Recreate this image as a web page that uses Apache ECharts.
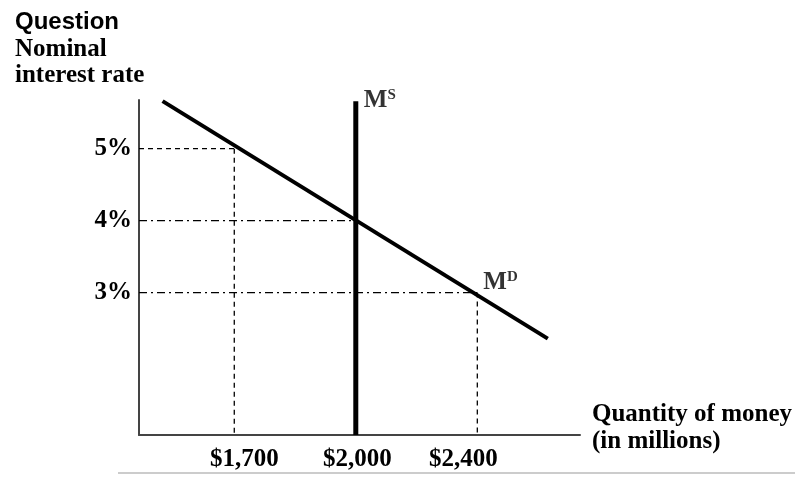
<!DOCTYPE html>
<html>
<head>
<meta charset="utf-8">
<script src="https://cdn.jsdelivr.net/npm/echarts@6/dist/echarts.min.js"></script>
<style>html,body{margin:0;padding:0;background:#fff;}#c{width:795px;height:478px;}</style>
</head>
<body>
<div id="c"></div>
<script>
// ---- data ----
const quantityLabels = ['$1,700', '$2,000', '$2,400'];   // money quantity tick labels
const quantityPos = [0, 1, 2];                            // position of each quantity on the (not-to-scale) axis
const eqRates = [5, 4, 3];                                // interest rate (%) demanded at each quantity
const rateTicks = [3, 4, 5];                              // y tick values (%)
const demandCurve = [[-0.59, 5.66], [2.58, 2.36]];        // M^D line end points
const supplyCurve = [[1, 1.02], [1, 5.66]];               // M^S vertical line
const supplyLabelPt = [[1, 5.66]];
const demandLabelPt = [[2, 3]];

const X_MIN = -0.784, X_MAX = 2.845, Y_MIN = 1.02, Y_MAX = 5.676;
const SERIF = '"Liberation Serif", "Times New Roman", serif';
const FS = 25;

const hDash = [[5, 4], [8, 4, 2, 4], [8, 4, 2, 4]];
const guideSeries = [];
quantityPos.forEach((p, i) => {
  guideSeries.push({
    type: 'line', silent: true, symbol: 'none', animation: false,
    data: [[X_MIN, eqRates[i]], [p, eqRates[i]]],
    lineStyle: { color: '#000', width: 1.3, type: hDash[i] }
  });
  if (p !== 1) {
    guideSeries.push({
      type: 'line', silent: true, symbol: 'none', animation: false,
      data: [[p, eqRates[i]], [p, Y_MIN]],
      lineStyle: { color: '#000', width: 1.3, type: [5, 4] }
    });
  }
});

const labelRich = {
  m: { fontFamily: SERIF, fontWeight: 'bold', fontSize: 25, lineHeight: 25, color: '#000' },
  s: { fontFamily: SERIF, fontWeight: 'bold', fontSize: 15, lineHeight: 15, verticalAlign: 'top', color: '#000' }
};
const tickFont = { fontFamily: SERIF, fontWeight: 'bold', fontSize: FS, color: '#000' };

const chart = echarts.init(document.getElementById('c'), null, { renderer: 'canvas' });
chart.setOption({
  animation: false,
  backgroundColor: '#fff',
  title: {
    text: 'Question', left: 15, top: 10, padding: 0,
    textStyle: { fontFamily: '"Liberation Sans", Arial, sans-serif', fontWeight: 'bold', fontSize: 24, lineHeight: 24, color: '#000' }
  },
  grid: { left: 139, top: 100, width: 441, height: 335 },
  xAxis: {
    type: 'value', min: X_MIN, max: X_MAX,
    axisLine: { onZero: false, lineStyle: { color: '#444', width: 2 } },
    axisTick: { show: false },
    splitLine: { show: false },
    axisLabel: {
      customValues: quantityPos, margin: 12,
      formatter: (v) => { const i = quantityPos.indexOf(Math.round(v)); return '{l' + i + '|' + quantityLabels[i] + '}'; },
      rich: {
        l0: Object.assign({ padding: [0, 0, 0, 20] }, tickFont),
        l1: Object.assign({ padding: [0, 0, 0, 3] }, tickFont),
        l2: Object.assign({ padding: [0, 28, 0, 0] }, tickFont)
      }
    }
  },
  yAxis: {
    type: 'value', min: Y_MIN, max: Y_MAX,
    axisLine: { show: true, onZero: false, lineStyle: { color: '#444', width: 2 } },
    axisTick: { show: false },
    splitLine: { show: false },
    axisLabel: Object.assign({
      customValues: rateTicks, margin: 7,
      formatter: (v) => Math.round(v) + '%'
    }, tickFont)
  },
  graphic: [
    { type: 'text', left: 15, top: 37, style: { text: 'Nominal\ninterest rate', font: 'bold ' + FS + 'px ' + SERIF, lineHeight: 26, fill: '#000' } },
    { type: 'text', left: 592, top: 401, style: { text: 'Quantity of money\n(in millions)', font: 'bold ' + FS + 'px ' + SERIF, lineHeight: 27, fill: '#000' } },
    { type: 'line', shape: { x1: 118, y1: 473, x2: 795, y2: 473 }, style: { stroke: '#cccccc', lineWidth: 2 } }
  ],
  series: guideSeries.concat([
    {
      type: 'line', name: 'Money demand', symbol: 'none', data: demandCurve,
      lineStyle: { color: '#000', width: 4 }
    },
    {
      type: 'line', name: 'Money supply', symbol: 'none', data: supplyCurve,
      lineStyle: { color: '#000', width: 5 }
    },
    {
      type: 'scatter', symbolSize: 0, data: supplyLabelPt, silent: true,
      label: { show: true, position: 'right', distance: 8, offset: [0, -1], formatter: '{m|M}{s|S}', rich: labelRich }
    },
    {
      type: 'scatter', symbolSize: 0, data: demandLabelPt, silent: true,
      label: { show: true, position: 'right', distance: 6, offset: [0, -10], formatter: '{m|M}{s|D}', rich: labelRich }
    }
  ])
});
</script>
</body>
</html>
